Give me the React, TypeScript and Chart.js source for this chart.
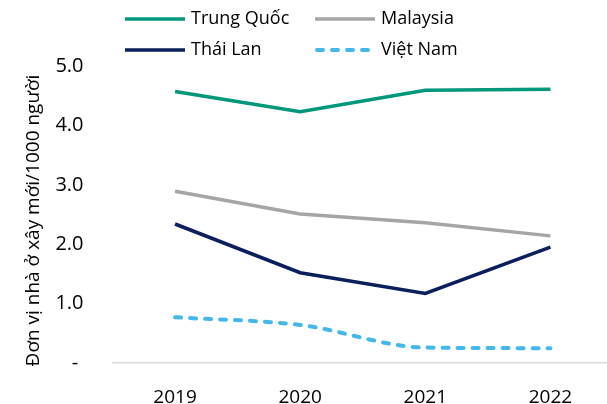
import React, { useEffect, useRef } from "react";
import { Chart, registerables } from "chart.js";

Chart.register(...registerables);

const years = ["2019", "2020", "2021", "2022"];
const trungQuoc = [4.57, 4.23, 4.59, 4.61];
const malaysia = [2.89, 2.51, 2.36, 2.14];
const thaiLan = [2.34, 1.52, 1.17, 1.95];
const vietNam = [0.77, 0.64, 0.26, 0.25];
const yTicks = [0, 1, 2, 3, 4, 5];
const yTitle = "Đơn vị nhà ở xây mới/1000 người";

const FONT = "'Open Sans', sans-serif";

const legendPlugin = {
  id: "gridLegend",
  afterDraw(chart: any) {
    const ctx = chart.ctx;
    const ds = chart.data.datasets;
    const cols = [125, 315];
    const rows = [19, 50];
    ctx.save();
    ctx.font = `18px ${FONT}`;
    ctx.textBaseline = "middle";
    ctx.textAlign = "left";
    ds.forEach((d: any, i: number) => {
      const x = cols[i % 2];
      const y = rows[Math.floor(i / 2)];
      const dashed = d.borderDash && d.borderDash.length;
      ctx.beginPath();
      ctx.strokeStyle = d.borderColor;
      ctx.lineWidth = d.borderWidth;
      ctx.lineCap = dashed ? "round" : "butt";
      ctx.setLineDash(d.borderDash || []);
      ctx.moveTo(x + (dashed ? 2 : 0), y);
      ctx.lineTo(x + 60, y);
      ctx.stroke();
      ctx.setLineDash([]);
      ctx.fillStyle = "#000";
      ctx.fillText(d.label, x + 66, y);
    });
    // y-axis title, centred slightly below the plot centre as in the reference
    const ca = chart.chartArea;
    ctx.translate(34, (ca.top + ca.bottom) / 2 + 6);
    ctx.rotate(-Math.PI / 2);
    ctx.textAlign = "center";
    ctx.font = `19px ${FONT}`;
    ctx.fillText(yTitle, 0, 0);
    ctx.restore();
  },
};

export default function App() {
  const ref = useRef<HTMLCanvasElement>(null);
  useEffect(() => {
    if (!ref.current) return;
    const chart = new Chart(ref.current, {
      type: "line",
      data: {
        labels: years,
        datasets: [
          { label: "Trung Quốc", data: trungQuoc, borderColor: "#00977A", borderWidth: 3.5, pointRadius: 0, tension: 0 },
          { label: "Malaysia", data: malaysia, borderColor: "#A5A5A5", borderWidth: 3.5, pointRadius: 0, tension: 0 },
          { label: "Thái Lan", data: thaiLan, borderColor: "#0B1F5E", borderWidth: 3.5, pointRadius: 0, tension: 0 },
          {
            label: "Việt Nam", data: vietNam, borderColor: "#44B8E8", borderWidth: 4, pointRadius: 0,
            borderDash: [6, 9], borderCapStyle: "round", tension: 0.35, cubicInterpolationMode: "monotone",
          },
        ],
      },
      options: {
        animation: false,
        responsive: true,
        maintainAspectRatio: false,
        layout: { padding: { top: 66, right: 0, left: 0, bottom: -10 } },
        plugins: { legend: { display: false }, tooltip: { enabled: false }, title: { display: false } },
        scales: {
          x: {
            offset: true,
            grid: { display: false, drawTicks: false },
            border: { display: true, color: "#D9D9D9", width: 1.5 },
            ticks: { color: "#000", font: { family: FONT, size: 19 }, padding: 23 },
            afterFit: (s: any) => { s.height = 40; },
          },
          y: {
            min: 0,
            max: 5,
            afterBuildTicks: (s: any) => { s.ticks = yTicks.map((v) => ({ value: v })); },
            grid: { display: false, drawTicks: false },
            border: { display: false },
            ticks: {
              color: "#000",
              font: { family: FONT, size: 20 },
              padding: 29,
              callback: (v: any) => (Number(v) === 0 ? "- " : Number(v).toFixed(1)),
            },
            title: { display: false },
            afterFit: (s: any) => { s.width = 112.5; },
          },
        },
      },
      plugins: [legendPlugin],
    });
    return () => chart.destroy();
  }, []);
  return (
    <div style={{ position: "fixed", left: 0, top: 0, width: 607, height: 404, overflow: "hidden" }}>
      <div style={{ position: "relative", width: 613, height: 404 }}>
        <canvas ref={ref} />
      </div>
    </div>
  );
}
